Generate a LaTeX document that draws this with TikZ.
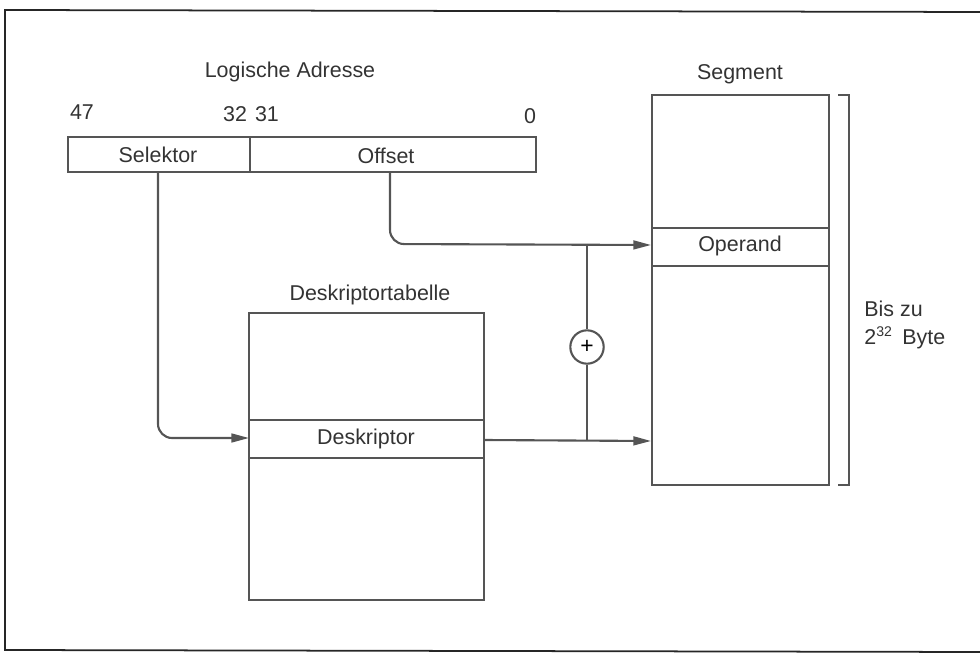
\documentclass[tikz,border=0pt]{standalone}
\usepackage{fontspec}
\setmainfont{Liberation Sans}
\usetikzlibrary{arrows.meta}
\definecolor{ink}{HTML}{555555}
\begin{document}
\begin{tikzpicture}[x=0.02cm,y=-0.02cm,
  box/.style={draw=ink,line width=1.2pt},
  lbl/.style={font=\fontsize{12.2}{14}\selectfont,text=black!80,inner sep=0pt},
  conn/.style={draw=ink,line width=1.2pt},
  arr/.style={conn,-{Triangle[length=10pt,width=5pt]}},
]
\useasboundingbox (0,0) rectangle (980,655);
% frame
\draw[black!85,line width=1pt] (985,12) -- (5,10) -- (5,650) -- (985,652);

% logical address
\node[lbl] (tLA) at (290,72) {Logische Adresse};
\node[lbl] (n47) at (82,112) {47};
\node[lbl] (n32) at (235,114) {32};
\node[lbl] (n31) at (267,114) {31};
\node[lbl] (n0) at (530,116) {0};
\draw[box] (68,137) rectangle (536,172);
\draw[box] (250,137) -- (250,172);
\node[lbl] (sel) at (158,155) {Selektor};
\node[lbl] (off) at (386,156) {Offset};
\coordinate (selB) at (158,172);
\coordinate (offB) at (390,172);

% descriptor table
\node[lbl] (tDT) at (370,295) {Deskriptortabelle};
\draw[box] (249,313) rectangle (484,600);
\draw[box] (249,420) -- (484,420);
\draw[box] (249,458) -- (484,458);
\node[lbl] (desk) at (366,439) {Deskriptor};
\coordinate (deskL) at (249,438);
\coordinate (deskR) at (484,440);

% segment
\node[lbl] (tSeg) at (740,74) {Segment};
\draw[box] (652,95) rectangle (829,485);
\draw[box] (652,228) -- (829,228);
\draw[box] (652,266) -- (829,266);
\node[lbl] (oper) at (740,246) {Operand};
\coordinate (opL) at (651,245);
\coordinate (segL) at (651,441);

% bracket
\draw[conn] (838,95) -- (849,95) -- (849,485) -- (838,485);
\node[lbl,align=left,anchor=west] (bis) at (864,325) {Bis zu\\[2pt]2\textsuperscript{\footnotesize 32}\, Byte};

% connectors
\draw[arr,rounded corners=8pt] (selB) -- (158,438) -- (deskL);
\draw[arr,rounded corners=8pt] (offB) -- (390,244) -- (opL);
\draw[arr] (deskR) -- (segL);
\node[draw=ink,line width=1.2pt,circle,minimum size=19pt,inner sep=0pt,font=\fontsize{13}{13}\selectfont] (plus) at (587,347) {+};
\draw[conn] (587,244) -- (plus.north);
\draw[conn] (plus.south) -- (587,440);
\end{tikzpicture}
\end{document}
